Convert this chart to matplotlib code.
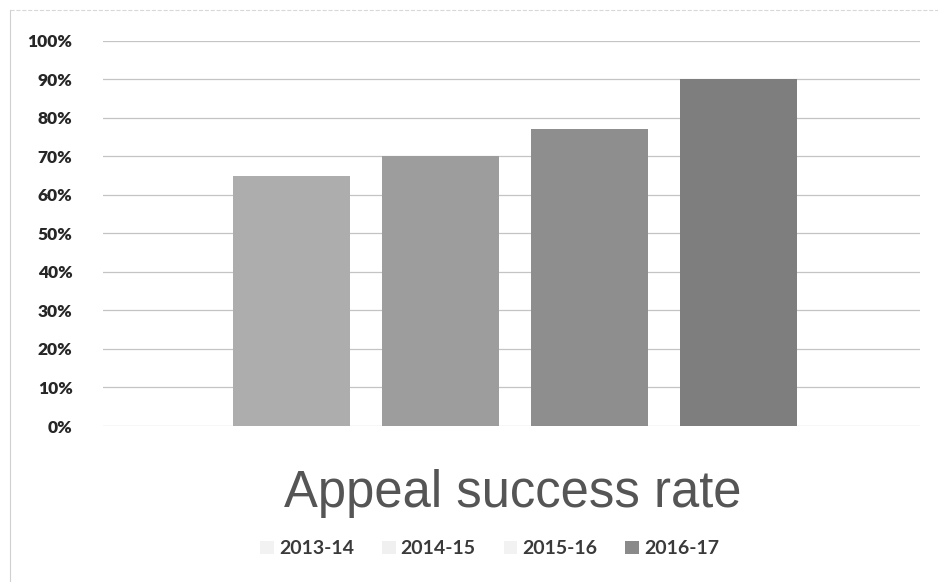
import matplotlib.pyplot as plt
from matplotlib.patches import Patch
from matplotlib.lines import Line2D
from matplotlib.ticker import PercentFormatter

years = ['2013-14', '2014-15', '2015-16', '2016-17']
success_rate = [0.65, 0.70, 0.77, 0.90]
bar_colors = ['#adadad', '#9d9d9d', '#8e8e8e', '#7e7e7e']
legend_colors = ['#f2f2f2', '#f0f0f0', '#f2f2f2', '#8a8a8a']
yticks = [i / 10 for i in range(11)]

fig = plt.figure(figsize=(9.38, 5.82), dpi=100)
ax = fig.add_axes([0.110, 0.268, 0.871, 0.662])

x = range(len(years))
ax.bar(x, success_rate, width=0.785, color=bar_colors, zorder=3)

ax.set_ylim(0, 1)
ax.set_xlim(-1.26, 4.22)
ax.set_yticks(yticks)
ax.yaxis.set_major_formatter(PercentFormatter(1.0, decimals=0))
ax.set_xticks([])
ax.grid(axis='y', color='#c4c4c4', linewidth=0.9, zorder=0)
for s in ax.spines.values():
    s.set_visible(False)
ax.tick_params(axis='y', length=0, pad=22)
for lbl in ax.get_yticklabels():
    lbl.set_fontfamily('Lato')
    lbl.set_fontweight('heavy')
    lbl.set_fontsize(12.5)
    lbl.set_color('#262626')

fig.text(0.547, 0.152, 'Appeal success rate', ha='center', va='center',
         fontsize=36.5, family='Liberation Sans', color='#555555')

handles = [Patch(facecolor=c, edgecolor='none') for c in legend_colors]
fig.legend(handles, years, loc='center', bbox_to_anchor=(0.522, 0.057), ncol=4,
           frameon=False, handlelength=0.7, handleheight=0.7, handletextpad=0.25,
           columnspacing=1.45, prop={'family': 'Lato', 'weight': 'bold', 'size': 14},
           labelcolor='#3a3a3a')

# faint scan frame on left and top
fig.add_artist(Line2D([0.011, 0.011], [0.0, 0.983], color='#d0d0d0', lw=0.8))
fig.add_artist(Line2D([0.011, 1.0], [0.983, 0.983], color='#d8d8d8', lw=0.8, ls='--'))

fig.savefig('out.png', dpi=100)
